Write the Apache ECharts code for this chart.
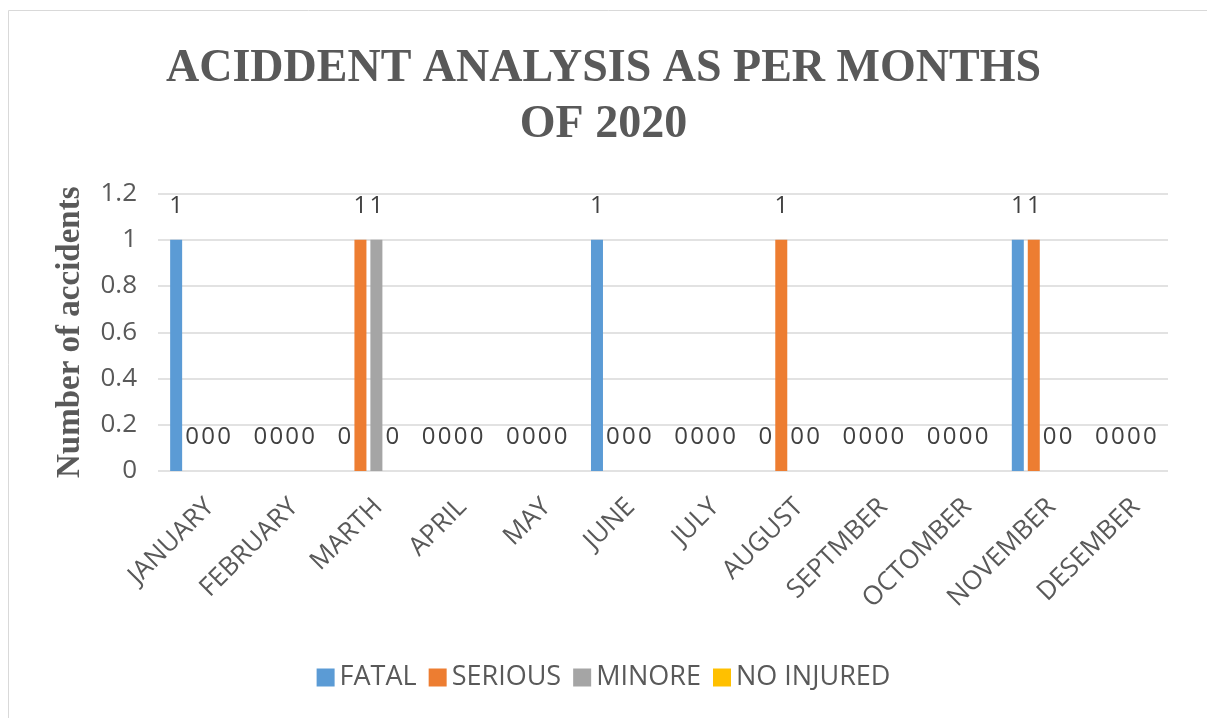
<!DOCTYPE html>
<html>
<head>
<meta charset="utf-8">
<script src="https://cdn.jsdelivr.net/npm/echarts@6/dist/echarts.min.js"></script>
<style>
  html, body { margin: 0; padding: 0; background: #fff; }
  #chart { width: 1207px; height: 718px; }
</style>
</head>
<body>
<div id="chart"></div>
<script>
const months = ["JANUARY", "FEBRUARY", "MARTH", "APRIL", "MAY", "JUNE", "JULY", "AUGUST", "SEPTMBER", "OCTOMBER", "NOVEMBER", "DESEMBER"];
const fatal = [1, 0, 0, 0, 0, 1, 0, 0, 0, 0, 1, 0];
const serious = [0, 0, 1, 0, 0, 0, 0, 1, 0, 0, 1, 0];
const minore = [0, 0, 1, 0, 0, 0, 0, 0, 0, 0, 0, 0];
const noInjured = [0, 0, 0, 0, 0, 0, 0, 0, 0, 0, 0, 0];
const yTicks = [0, 0.2, 0.4, 0.6, 0.8, 1, 1.2];

const sans = "'Open Sans', 'Noto Sans', sans-serif";
const serif = "'Liberation Serif', 'DejaVu Serif', serif";

const seriesDefs = [
  { name: "FATAL", data: fatal, color: "#5B9BD5" },
  { name: "SERIOUS", data: serious, color: "#ED7D31" },
  { name: "MINORE", data: minore, color: "#A5A5A5" },
  { name: "NO INJURED", data: noInjured, color: "#FFC000" }
];

const chart = echarts.init(document.getElementById("chart"), null, { renderer: "canvas" });

chart.setOption({
  animation: false,
  title: {
    text: "ACIDDENT ANALYSIS AS PER MONTHS\nOF 2020",
    left: "center",
    top: 36,
    textStyle: {
      fontFamily: serif,
      fontWeight: "bold",
      fontSize: 46,
      lineHeight: 56,
      color: "#595959"
    }
  },
  graphic: [{
    type: "rect",
    shape: { x: 8.5, y: 10.5, width: 1210, height: 720 },
    style: { fill: "none", stroke: "#D9D9D9", lineWidth: 1 },
    silent: true
  }],
  legend: {
    bottom: 22,
    left: "center",
    itemWidth: 18,
    itemHeight: 18,
    itemGap: 12,
    icon: "rect",
    textStyle: { fontFamily: sans, fontSize: 27, color: "#595959" },
    data: seriesDefs.map((s) => s.name)
  },
  grid: {
    left: 158,
    right: 39,
    top: 193.5,
    bottom: 247,
    outerBoundsMode: "none"
  },
  xAxis: {
    type: "category",
    data: months,
    axisLine: { show: false },
    axisTick: { show: false },
    axisLabel: {
      rotate: 45,
      margin: 22,
      verticalAlign: "top",
      lineHeight: 28,
      fontFamily: sans,
      fontSize: 26,
      color: "#595959",
      interval: 0
    }
  },
  yAxis: {
    type: "value",
    min: 0,
    max: 1.2,
    interval: 0.2,
    name: "Number of accidents",
    nameLocation: "middle",
    nameGap: 71,
    nameTextStyle: {
      fontFamily: serif,
      fontWeight: "bold",
      fontSize: 33,
      color: "#595959"
    },
    axisLine: { show: false },
    axisTick: { show: false },
    splitLine: { lineStyle: { color: "#D9D9D9", width: 1.5 } },
    axisLabel: {
      margin: 21,
      fontFamily: sans,
      fontSize: 26,
      color: "#595959",
      formatter: (v) => (yTicks.includes(Math.round(v * 10) / 10) ? String(Math.round(v * 10) / 10) : "")
    }
  },
  series: seriesDefs.map((s) => ({
    type: "bar",
    name: s.name,
    data: s.data,
    barWidth: 12,
    barGap: "33%",
    itemStyle: { color: s.color },
    label: {
      show: true,
      position: "top",
      distance: 22,
      fontFamily: sans,
      fontSize: 24,
      color: "#404040"
    }
  }))
});
</script>
</body>
</html>
